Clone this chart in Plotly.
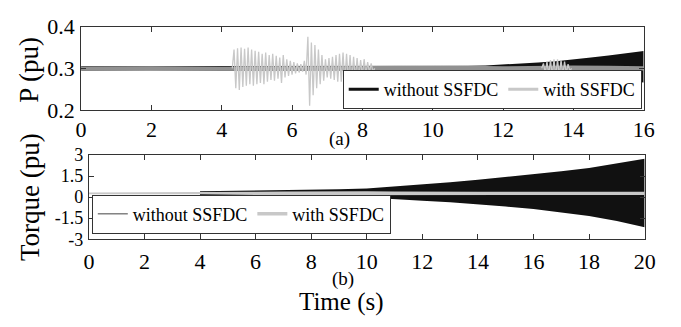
import plotly.graph_objects as go

# ---------------- Data ----------------
# (a) P (pu): envelope of the "without SSFDC" oscillation
p_wo_t = [0, 2, 4, 6, 8, 10, 11, 11.5, 12, 12.5, 13, 13.5, 14, 14.5, 15, 15.5, 16]
p_wo_up = [0.305, 0.305, 0.305, 0.305, 0.305, 0.305, 0.306, 0.307, 0.309, 0.311, 0.314, 0.317, 0.321, 0.326, 0.331, 0.336, 0.342]
p_wo_lo = [0.295, 0.295, 0.295, 0.295, 0.295, 0.295, 0.294, 0.293, 0.292, 0.290, 0.288, 0.285, 0.282, 0.278, 0.274, 0.270, 0.266]

# (a) "with SSFDC": quiet envelope
p_w_t = [0, 2, 4, 6, 8, 9, 10, 11, 12, 13, 14, 15, 16]
p_w_up = [0.304, 0.305, 0.304, 0.304, 0.305, 0.307, 0.307, 0.306, 0.305, 0.306, 0.307, 0.306, 0.305]
p_w_lo = [0.296, 0.295, 0.296, 0.296, 0.295, 0.293, 0.293, 0.294, 0.295, 0.294, 0.293, 0.294, 0.295]

# (a) "with SSFDC": oscillation extrema during the bursts
burst1_t = [4.30, 4.35, 4.40, 4.45, 4.50, 4.55, 4.60, 4.65, 4.70, 4.75, 4.80, 4.85, 4.90, 4.95,
            5.00, 5.05, 5.10, 5.15, 5.20, 5.25, 5.30, 5.35, 5.40, 5.45, 5.50, 5.55, 5.60, 5.65,
            5.70, 5.75, 5.80, 5.85, 5.90, 5.95, 6.00, 6.05, 6.10, 6.15, 6.20, 6.25, 6.30, 6.35,
            6.40, 6.45, 6.50, 6.55, 6.60, 6.65, 6.70, 6.75, 6.80, 6.85, 6.90, 6.95, 7.00, 7.05,
            7.10, 7.15, 7.20, 7.25, 7.30, 7.35, 7.40, 7.45, 7.50, 7.55, 7.60, 7.65, 7.70, 7.75,
            7.80, 7.85, 7.90, 7.95, 8.00, 8.05, 8.10, 8.15, 8.20, 8.25, 8.30, 8.35]
burst1_v = [0.300, 0.345, 0.252, 0.348, 0.248, 0.350, 0.255, 0.347, 0.258, 0.350, 0.262, 0.345, 0.258, 0.342,
            0.262, 0.340, 0.265, 0.335, 0.262, 0.338, 0.268, 0.332, 0.272, 0.335, 0.270, 0.330, 0.275, 0.326,
            0.265, 0.332, 0.278, 0.322, 0.282, 0.318, 0.285, 0.315, 0.288, 0.312, 0.290, 0.310, 0.292, 0.318,
            0.285, 0.376, 0.210, 0.362, 0.235, 0.356, 0.252, 0.345, 0.262, 0.332, 0.270, 0.322, 0.278, 0.325,
            0.275, 0.328, 0.272, 0.332, 0.268, 0.335, 0.268, 0.338, 0.265, 0.335, 0.268, 0.332, 0.270, 0.328,
            0.275, 0.325, 0.278, 0.320, 0.282, 0.322, 0.285, 0.315, 0.290, 0.312, 0.292, 0.300]
burst2_t = [13.10, 13.15, 13.20, 13.25, 13.30, 13.35, 13.40, 13.45, 13.50, 13.55, 13.60, 13.65,
            13.70, 13.75, 13.80, 13.85, 13.90, 13.95]
burst2_v = [0.300, 0.312, 0.289, 0.316, 0.285, 0.320, 0.282, 0.322, 0.280, 0.322, 0.281, 0.320,
            0.284, 0.316, 0.288, 0.310, 0.294, 0.300]

# (b) Torque (pu): envelope of "without SSFDC"
q_wo_t = [4, 5, 6, 7, 8, 9, 10, 11, 12, 13, 14, 15, 16, 17, 18, 19, 20]
q_wo_up = [0.42, 0.44, 0.47, 0.49, 0.52, 0.56, 0.62, 0.75, 0.90, 1.06, 1.24, 1.43, 1.64, 1.85, 2.08, 2.40, 2.75]
q_wo_lo = [0.16, 0.14, 0.11, 0.08, 0.05, 0.02, -0.03, -0.13, -0.25, -0.37, -0.51, -0.67, -0.85, -1.08, -1.35, -1.70, -2.15]

# (b) envelope of "with SSFDC"
q_w_t = [0, 4, 5, 6, 7, 8, 9, 10, 11, 12, 14, 16, 18, 20]
q_w_up = [0.33, 0.33, 0.36, 0.38, 0.40, 0.42, 0.44, 0.42, 0.40, 0.38, 0.38, 0.38, 0.38, 0.38]
q_w_lo = [0.21, 0.21, 0.18, 0.16, 0.14, 0.12, 0.10, 0.12, 0.14, 0.15, 0.15, 0.15, 0.15, 0.15]

p_xticks = [0, 2, 4, 6, 8, 10, 12, 14, 16]
p_yticks = [0.2, 0.3, 0.4]
p_yticktext = ["0.2", "0.3", "0.4"]
q_xticks = [0, 2, 4, 6, 8, 10, 12, 14, 16, 18, 20]
q_yticks = [-3, -1.5, 0, 1.5, 3]
q_yticktext = ["-3", "-1.5", "0", "1.5", "3"]

names = ["without SSFDC", "with SSFDC"]

# ---------------- Styling ----------------
W, H = 681, 327
FONT = "Liberation Serif, serif"
BLACK = "#111111"
GREY = "#c8c8c8"
FRAME = "#333333"


def band(t, up, lo):
    return list(t) + list(t)[::-1], list(up) + list(lo)[::-1]


fig = go.Figure()

# ---- panel (a)
x, y = band(p_wo_t, p_wo_up, p_wo_lo)
fig.add_trace(go.Scatter(x=x, y=y, fill="toself", fillcolor=BLACK, line=dict(width=0),
                         mode="lines", showlegend=False, hoverinfo="skip", xaxis="x", yaxis="y"))
x, y = band(p_w_t, p_w_up, p_w_lo)
fig.add_trace(go.Scatter(x=x, y=y, fill="toself", fillcolor="rgba(200,200,200,0.7)", line=dict(width=0),
                         mode="lines", showlegend=False, hoverinfo="skip", xaxis="x", yaxis="y"))
for bt, bv in ((burst1_t, burst1_v), (burst2_t, burst2_v)):
    fig.add_trace(go.Scatter(x=bt, y=bv, mode="lines", line=dict(color=GREY, width=1.3),
                             showlegend=False, hoverinfo="skip", xaxis="x", yaxis="y"))
# legend entries (a)
fig.add_trace(go.Scatter(x=[None], y=[None], mode="lines", name=names[0],
                         line=dict(color=BLACK, width=3), legend="legend", xaxis="x", yaxis="y"))
fig.add_trace(go.Scatter(x=[None], y=[None], mode="lines", name=names[1],
                         line=dict(color=GREY, width=3), legend="legend", xaxis="x", yaxis="y"))

# ---- panel (b)
x, y = band(q_wo_t, q_wo_up, q_wo_lo)
fig.add_trace(go.Scatter(x=x, y=y, fill="toself", fillcolor=BLACK, line=dict(width=0),
                         mode="lines", showlegend=False, hoverinfo="skip", xaxis="x2", yaxis="y2"))
x, y = band(q_w_t, q_w_up, q_w_lo)
fig.add_trace(go.Scatter(x=x, y=y, fill="toself", fillcolor=GREY, line=dict(width=0),
                         mode="lines", showlegend=False, hoverinfo="skip", xaxis="x2", yaxis="y2"))
fig.add_trace(go.Scatter(x=[None], y=[None], mode="lines", name=names[0],
                         line=dict(color="#444444", width=1), legend="legend2", xaxis="x2", yaxis="y2"))
fig.add_trace(go.Scatter(x=[None], y=[None], mode="lines", name=names[1],
                         line=dict(color=GREY, width=3.5), legend="legend2", xaxis="x2", yaxis="y2"))

axis_common = dict(showline=True, linecolor=FRAME, linewidth=1, mirror="ticks", ticks="inside",
                   ticklen=5, tickcolor=FRAME, showgrid=False, zeroline=False)
tfont = dict(family=FONT, size=22, color="black")
tfont_small = dict(family=FONT, size=18, color="black")

fig.update_layout(
    width=W, height=H,
    margin=dict(l=0, r=0, t=0, b=0),
    paper_bgcolor="white", plot_bgcolor="white",
    xaxis=dict(domain=[77 / W, 654 / W], range=[0, 16], tickvals=p_xticks, anchor="y",
               tickfont=tfont, **axis_common),
    yaxis=dict(domain=[1 - 106 / H, 1 - 16 / H], range=[0.2, 0.4], tickvals=p_yticks,
               ticktext=p_yticktext, anchor="x", tickfont=tfont, ticklabelstandoff=1, **axis_common),
    xaxis2=dict(domain=[85 / W, 655 / W], range=[0, 20], tickvals=q_xticks, anchor="y2",
                tickfont=tfont, ticklabelstandoff=2, **axis_common),
    yaxis2=dict(domain=[1 - 246 / H, 1 - 155 / H], range=[-3, 3], tickvals=q_yticks,
                ticktext=q_yticktext, anchor="x2", tickfont=tfont_small, ticklabelstandoff=1, **axis_common),
    legend=dict(orientation="h", x=652 / W, xanchor="right", y=1 - 105 / H, yanchor="bottom",
                bgcolor="white", bordercolor=FRAME, borderwidth=1,
                font=dict(family=FONT, size=18, color="black")),
    legend2=dict(orientation="h", x=88 / W, xanchor="left", y=1 - 240 / H, yanchor="bottom",
                 bgcolor="white", bordercolor=FRAME, borderwidth=1,
                 font=dict(family=FONT, size=18, color="black")),
    showlegend=True,
)

ann_font = dict(family=FONT, color="black")
annotations = [
    dict(text="P (pu)", x=24 / W, y=1 - 62 / H, textangle=-90, font=dict(size=27, **ann_font)),
    dict(text="Torque (pu)", x=24 / W, y=1 - 200 / H, textangle=-90, font=dict(size=27, **ann_font)),
    dict(text="(a)", x=342 / W, y=1 - 137 / H, font=dict(size=19, **ann_font)),
    dict(text="(b)", x=346 / W, y=1 - 289 / H, font=dict(size=19, **ann_font)),
    dict(text="Time (s)", x=344 / W, y=1 - 314 / H, font=dict(size=25, **ann_font)),
]
for a in annotations:
    a.update(xref="paper", yref="paper", showarrow=False, xanchor="center", yanchor="middle")
fig.update_layout(annotations=annotations)

fig.write_html("out.html")
